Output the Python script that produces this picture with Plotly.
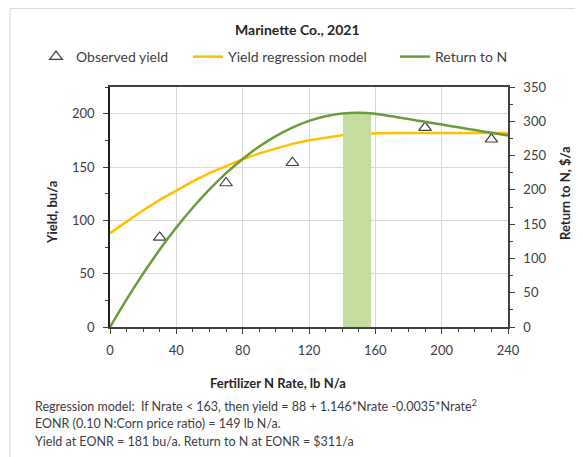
import plotly.graph_objects as go

# ---- data ----
obs_n = [30, 70, 110, 150, 190, 230]
obs_yield = [84, 135, 154, 170, 187, 176]

model_n = [0, 10, 20, 30, 40, 50, 60, 70, 80, 90, 100, 110, 120, 130, 140, 150, 160,
           170, 180, 190, 200, 210, 220, 230, 240]
model_yield = [88.0, 99.1, 109.5, 119.2, 128.2, 136.6, 144.2, 151.1, 157.3, 162.8, 167.6,
               171.7, 175.1, 177.8, 179.8, 181.2, 181.8, 181.8, 181.8, 181.8, 181.8, 181.8,
               181.8, 181.8, 181.8]
return_n = [0.0, 40.4, 78.1, 112.9, 145.0, 174.2, 200.6, 224.3, 245.1, 263.2, 278.4,
            290.8, 300.5, 307.3, 311.4, 312.6, 311.0, 307.2, 303.2, 299.2, 295.2, 291.2,
            287.2, 283.2, 279.2]

eonr = [149]
eonr_return = [311]

x_ticks = [0, 40, 80, 120, 160, 200, 240]
y_ticks = [0, 50, 100, 150, 200]
y2_ticks = [0, 50, 100, 150, 200, 250, 300, 350]

FONT = "Lato"
TXT = "#404040"

# page body has an 8px margin: figure is sized/shifted to compensate
W, H = 575, 449
L, R, T, B = 102, 75, 79, 130
PW, PH = W - L - R, H - T - B


def px(xref_px):
    return (xref_px - 8 - L) / PW


def py(yref_px):
    return (H - B - (yref_px - 8)) / PH


fig = go.Figure()

fig.add_trace(go.Bar(x=eonr, y=eonr_return, width=17, yaxis="y2",
                     marker=dict(color="#c5dca0", line=dict(width=0)),
                     showlegend=False, hoverinfo="skip"))
fig.add_trace(go.Scatter(x=model_n, y=model_yield, mode="lines", name="Yield regression model",
                         line=dict(color="#ffc000", width=2.5), legend="legend2"))
fig.add_trace(go.Scatter(x=model_n, y=return_n, mode="lines", name="Return to N", yaxis="y2",
                         line=dict(color="#6a9c3a", width=2.5, shape="spline", smoothing=0.4),
                         legend="legend3"))
fig.add_trace(go.Scatter(x=obs_n, y=obs_yield, mode="markers", name="Observed yield",
                         marker=dict(symbol="triangle-up-open", size=11,
                                     color="#404040", line=dict(width=1.2, color="#404040")),
                         legend="legend"))

axis_font = dict(family=FONT, size=13, color=TXT)
leg_font = dict(family=FONT, size=14, color=TXT)

fig.update_layout(
    width=W, height=H,
    margin=dict(l=L, r=R, t=T, b=B),
    paper_bgcolor="white", plot_bgcolor="white",
    font=dict(family=FONT, color=TXT),
    barmode="overlay",
    xaxis=dict(range=[0, 240], tickvals=x_ticks, showgrid=True, gridcolor="#d9d9d9",
               gridwidth=1, showline=True, linecolor="#404040", linewidth=1.5, mirror=True,
               ticks="outside", ticklen=5, tickcolor="#404040", tickfont=axis_font,
               ticklabelstandoff=6, zeroline=False,
               minor=dict(dtick=10, ticks="outside", ticklen=3, tickcolor="#404040",
                          showgrid=False)),
    yaxis=dict(range=[0, 225], tickvals=y_ticks, showgrid=True, gridcolor="#d9d9d9",
               gridwidth=1, showline=True, linecolor="#202020", linewidth=1.5,
               ticks="outside", ticklen=5, tickcolor="#404040", tickfont=axis_font,
               ticklabelstandoff=6, zeroline=False,
               minor=dict(dtick=25, ticks="outside", ticklen=3, tickcolor="#404040",
                          showgrid=False)),
    yaxis2=dict(range=[0, 350], tickvals=y2_ticks, overlaying="y", side="right",
                showgrid=False, showline=True, linecolor="#404040", linewidth=1.5,
                ticks="outside", ticklen=5, tickcolor="#404040", tickfont=axis_font,
                ticklabelstandoff=6, zeroline=False,
                minor=dict(dtick=25, ticks="outside", ticklen=3, tickcolor="#404040")),
    legend=dict(orientation="h", x=px(36), xanchor="left", y=py(57), yanchor="middle",
                font=leg_font, bgcolor="rgba(0,0,0,0)"),
    legend2=dict(orientation="h", x=px(188), xanchor="left", y=py(57), yanchor="middle",
                 font=leg_font, bgcolor="rgba(0,0,0,0)"),
    legend3=dict(orientation="h", x=px(395), xanchor="left", y=py(57), yanchor="middle",
                 font=leg_font, bgcolor="rgba(0,0,0,0)"),
    showlegend=True,
)

# chart border
fig.add_shape(type="rect", xref="paper", yref="paper", x0=px(10), x1=px(600), y0=py(480),
              y1=py(8.5), line=dict(color="#d9d9d9", width=1), fillcolor="rgba(0,0,0,0)",
              layer="below")

fig.add_annotation(text="<b>Marinette Co., 2021</b>", xref="paper", yref="paper",
                   x=px(297), y=py(30), xanchor="center", yanchor="middle", showarrow=False,
                   font=dict(family=FONT, size=14, color="#262626"))
fig.add_annotation(text="<b>Fertilizer N Rate, lb N/a</b>", xref="paper", yref="paper",
                   x=px(278), y=py(383), xanchor="center", yanchor="middle", showarrow=False,
                   font=dict(family=FONT, size=13, color="#262626"))
fig.add_annotation(text="<b>Yield, bu/a</b>", xref="paper", yref="paper",
                   x=px(52), y=py(213), textangle=-90,
                   xanchor="center", yanchor="middle", showarrow=False,
                   font=dict(family=FONT, size=13, color="#262626"))
fig.add_annotation(text="<b>Return to N, $/a</b>", xref="paper", yref="paper",
                   x=px(565), y=py(193), textangle=-90,
                   xanchor="center", yanchor="middle", showarrow=False,
                   font=dict(family=FONT, size=13, color="#262626"))

notes = [
    "Regression model:  If Nrate &lt; 163, then yield = 88 + 1.146*Nrate -0.0035*Nrate<sup>2</sup>",
    "EONR (0.10 N:Corn price ratio) = 149 lb N/a.",
    "Yield at EONR = 181 bu/a. Return to N at EONR = $311/a",
]
for i, t in enumerate(notes):
    fig.add_annotation(text=t, xref="paper", yref="paper", x=px(33),
                       y=py(405 + 18 * i), xanchor="left", yanchor="middle",
                       showarrow=False, font=dict(family=FONT, size=12.5, color=TXT))

fig.write_html("out.html")
